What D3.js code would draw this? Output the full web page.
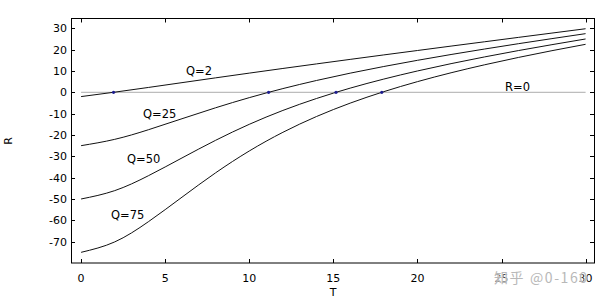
<!DOCTYPE html>
<html>
<head>
<meta charset="utf-8">
<script src="https://cdn.jsdelivr.net/npm/d3@7"></script>
<style>
  body { margin: 0; background: #fff; }
  svg { display: block; }
</style>
</head>
<body>
<script>
// values
const tValues = [0, 2, 4, 6, 8, 10, 12, 14, 16, 18, 20, 22, 24, 26, 28, 30];
const rQ2  = [-2.00, 0.08, 2.28, 4.53, 6.78, 9.00, 11.18, 13.32, 15.44, 17.53, 19.60, 21.66, 23.70, 25.74, 27.77, 29.80];
const rQ25 = [-25.0, -22.04, -17.55, -12.38, -7.24, -2.50, 1.75, 5.55, 8.98, 12.10, 15.00, 17.72, 20.30, 22.78, 25.17, 27.50];
const rQ50 = [-50.0, -46.08, -39.10, -30.76, -22.49, -15.00, -8.49, -2.89, 1.96, 6.21, 10.00, 13.44, 16.60, 19.56, 22.34, 25.00];
const rQ75 = [-75.0, -70.12, -60.66, -49.15, -37.73, -27.50, -18.74, -11.34, -5.07, 0.31, 5.00, 9.16, 12.91, 16.34, 19.52, 22.50];
const crossT = [1.93, 11.15, 15.16, 17.88];
const curveNames = ["Q=2", "Q=25", "Q=50", "Q=75"];
const xTicks = [0, 5, 10, 15, 20, 25, 30];
const yTicks = [-70, -60, -50, -40, -30, -20, -10, 0, 10, 20, 30];

const width = 600, height = 300;
const plot = {left: 71, right: 594, top: 18.5, bottom: 263};

const x = d3.scaleLinear().domain([-0.6, 30.5]).range([plot.left, plot.right]);
const y = d3.scaleLinear().domain([-80, 34.6]).range([plot.bottom, plot.top]);

const svg = d3.select("body").append("svg")
    .attr("width", width)
    .attr("height", height)
    .style("font", "11px 'DejaVu Sans', sans-serif");

const series = [rQ2, rQ25, rQ50, rQ75].map(vals => vals.map((v, i) => [tValues[i], v]));

// R=0 reference line
svg.append("line")
    .attr("x1", x(0)).attr("x2", x(30))
    .attr("y1", y(0)).attr("y2", y(0))
    .attr("stroke", "#bdbdbd")
    .attr("stroke-width", 1.2);

const line = d3.line()
    .x(d => x(d[0]))
    .y(d => y(d[1]))
    .curve(d3.curveNatural);

svg.append("g")
  .selectAll("path")
  .data(series)
  .enter().append("path")
    .attr("fill", "none")
    .attr("stroke", "#111")
    .attr("stroke-width", 1)
    .attr("d", line);

svg.append("g")
  .selectAll("circle")
  .data(crossT)
  .enter().append("circle")
    .attr("cx", d => x(d))
    .attr("cy", y(0))
    .attr("r", 1.6)
    .attr("fill", "#1c1c8e");

// frame with inward ticks on all four sides
const frame = svg.append("g").attr("stroke", "#000").attr("stroke-width", 1);
frame.append("rect")
    .attr("x", plot.left + 0.5).attr("y", plot.top)
    .attr("width", plot.right - plot.left).attr("height", plot.bottom - plot.top)
    .attr("fill", "none");

frame.selectAll(".xt")
  .data(xTicks)
  .enter().append("path")
    .attr("d", d => `M${Math.round(x(d)) + 0.5},${plot.bottom}v-4M${Math.round(x(d)) + 0.5},${plot.top}v4`);

frame.selectAll(".yt")
  .data(yTicks)
  .enter().append("path")
    .attr("d", d => `M${plot.left},${Math.round(y(d)) + 0.5}h4M${plot.right},${Math.round(y(d)) + 0.5}h-4`);

svg.append("g")
  .selectAll("text")
  .data(xTicks)
  .enter().append("text")
    .attr("x", d => x(d))
    .attr("y", 281.5)
    .attr("text-anchor", "middle")
    .text(d => String(d));

svg.append("g")
  .selectAll("text")
  .data(yTicks)
  .enter().append("text")
    .attr("x", 67)
    .attr("y", d => y(d))
    .attr("dy", "0.36em")
    .attr("text-anchor", "end")
    .text(d => String(d));

// axis titles
svg.append("text")
    .attr("x", 333)
    .attr("y", 296)
    .attr("text-anchor", "middle")
    .text("T");

svg.append("text")
    .attr("transform", "translate(11.5,141) rotate(-90)")
    .attr("text-anchor", "middle")
    .text("R");

// curve labels
const labelPos = [[186, 75], [143, 118], [127, 163], [111, 219]];
svg.append("g")
  .selectAll("text")
  .data(curveNames)
  .enter().append("text")
    .attr("x", (d, i) => labelPos[i][0])
    .attr("y", (d, i) => labelPos[i][1])
    .style("font-size", "11.5px")
    .text(d => d);

svg.append("text")
    .attr("x", 505)
    .attr("y", 90.5)
    .style("font-size", "11.5px")
    .text("R=0");

// watermark
svg.append("text")
    .attr("x", 494)
    .attr("y", 282.5)
    .attr("fill", "#b8b8b8")
    .attr("stroke", "#fff")
    .attr("stroke-width", 2)
    .attr("stroke-opacity", 0.6)
    .attr("paint-order", "stroke")
    .attr("letter-spacing", "1.6px")
    .style("font", "14px 'Noto Sans CJK SC', sans-serif")
    .text("知乎 @0-160");
</script>
</body>
</html>
